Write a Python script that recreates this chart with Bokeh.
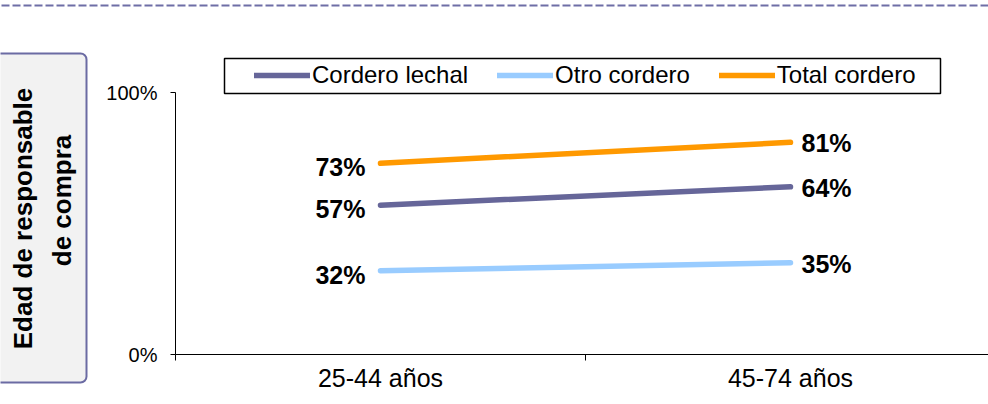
import math
from bokeh.plotting import figure
from bokeh.models import (Range1d, FixedTicker, PrintfTickFormatter, Legend, LegendItem,
                          BoxAnnotation, Label, Arrow, ColumnDataSource, LinearAxis)
from bokeh.core.properties import value
from bokeh.embed import file_html
from bokeh.resources import INLINE

# ---------------- data ----------------
categories = ["25-44 años", "45-74 años"]
series_names = ["Cordero lechal", "Otro cordero", "Total cordero"]
cordero_lechal = [57, 64]
otro_cordero = [32, 35]
total_cordero = [73, 81]
series_values = [cordero_lechal, otro_cordero, total_cordero]
series_colors = ["#666699", "#99CCFF", "#FF9900"]
y_ticks = [0, 100]
side_title_1 = "Edad de responsable"
side_title_2 = "de compra"

FONT = "Liberation Sans"
W, H = 988, 404
# layout of the plotting area, in pixels of the page
AX_X, AX_Y0, AX_Y100, CAT_W = 175, 354, 92, 410
PX_PER_PCT = (AX_Y0 - AX_Y100) / 100.0

# category positions (each category occupies one unit)
xpos = [i + 0.5 for i in range(len(categories))]

x_range = Range1d(-AX_X / CAT_W, (W - AX_X) / CAT_W)
y_range = Range1d(-(H - AX_Y0) / PX_PER_PCT, AX_Y0 / PX_PER_PCT)

p = figure(width=W, height=H, output_backend="svg", toolbar_location=None,
           x_range=x_range, y_range=y_range,
           x_axis_location=None, y_axis_location=None,
           min_border=0)
p.outline_line_color = None
p.xgrid.visible = False
p.ygrid.visible = False
p.background_fill_color = "white"
p.border_fill_color = "white"

# x axis
xa = LinearAxis(fixed_location=0, bounds=(0, x_range.end))
xa.ticker = FixedTicker(ticks=xpos, minor_ticks=list(range(len(categories) + 1)))
xa.major_label_overrides = {x: c for x, c in zip(xpos, categories)}
xa.major_tick_out = 0
xa.major_tick_in = 0
xa.minor_tick_out = 6
xa.minor_tick_in = 0
xa.minor_tick_line_color = "black"
xa.axis_line_color = "black"
xa.major_label_text_font = FONT
xa.major_label_text_font_size = "25px"
xa.major_label_text_color = "black"
xa.major_label_standoff = 3
p.add_layout(xa, "below")

# y axis
ya = LinearAxis(fixed_location=0, bounds=(0, 100))
ya.ticker = FixedTicker(ticks=y_ticks, minor_ticks=[])
ya.formatter = PrintfTickFormatter(format="%d%%")
ya.major_tick_out = 5
ya.major_tick_in = 0
ya.major_tick_line_color = "black"
ya.axis_line_color = "black"
ya.major_label_text_font = FONT
ya.major_label_text_font_size = "20px"
ya.major_label_text_color = "black"
ya.major_label_standoff = 13
p.add_layout(ya, "left")

# ---------------- decorations (screen units: from bottom-left) ----------------
p.add_layout(Arrow(start=None, end=None, x_start=-10, y_start=H - 5, x_end=W + 10, y_end=H - 5,
                   start_units="screen", end_units="screen",
                   line_color="#6E6EA6", line_width=2, line_dash="8 3"))

p.add_layout(BoxAnnotation(left=-10, right=86, top=H - 53, bottom=H - 382,
                           left_units="screen", right_units="screen",
                           top_units="screen", bottom_units="screen",
                           fill_color="#F2F2F2", fill_alpha=1,
                           line_color="#6B6BA3", line_width=2, line_alpha=1,
                           border_radius=6))
p.add_layout(Label(x=22, y=H - 218, x_units="screen", y_units="screen", text=side_title_1,
                   angle=math.pi / 2, text_align="center", text_baseline="alphabetic",
                   text_font=FONT, text_font_style="bold", text_font_size="26px",
                   text_color="black"))
p.add_layout(Label(x=61, y=H - 200, x_units="screen", y_units="screen", text=side_title_2,
                   angle=math.pi / 2, text_align="center", text_baseline="alphabetic",
                   text_font=FONT, text_font_style="bold", text_font_size="26px",
                   text_color="black"))

# ---------------- series ----------------
renderers = []
for name, vals, col in zip(series_names, series_values, series_colors):
    r = p.line(xpos, vals, line_color=col, line_width=5.5, line_cap="round")
    renderers.append(r)

left_src = ColumnDataSource(dict(
    x=[xpos[0]] * len(series_values),
    y=[v[0] for v in series_values],
    t=[f"{v[0]}%" for v in series_values]))
right_src = ColumnDataSource(dict(
    x=[xpos[-1]] * len(series_values),
    y=[v[-1] for v in series_values],
    t=[f"{v[-1]}%" for v in series_values]))

p.text(x="x", y="y", text="t", source=left_src, text_align="right", text_baseline="middle",
       x_offset=-15, y_offset=4, text_font=value(FONT), text_font_style="bold",
       text_font_size="25px", text_color="black")
p.text(x="x", y="y", text="t", source=right_src, text_align="left", text_baseline="middle",
       x_offset=11, y_offset=1, text_font=value(FONT), text_font_style="bold",
       text_font_size="25px", text_color="black")

# ---------------- legend ----------------
p.add_layout(BoxAnnotation(left=224, right=940, top=H - 58, bottom=H - 93,
                           left_units="screen", right_units="screen",
                           top_units="screen", bottom_units="screen",
                           fill_color="white", fill_alpha=1,
                           line_color="black", line_width=1.5, line_alpha=1))
legend = Legend(items=[LegendItem(label=n, renderers=[r]) for n, r in zip(series_names, renderers)],
                orientation="horizontal", location=(250, H - 93),
                glyph_width=56, glyph_height=20, label_standoff=2, spacing=29,
                padding=4, margin=0,
                label_text_font=FONT, label_text_font_size="24px", label_text_color="black",
                background_fill_alpha=0, border_line_alpha=0)
p.add_layout(legend, "center")

open("out.html", "w").write(file_html(p, INLINE))
